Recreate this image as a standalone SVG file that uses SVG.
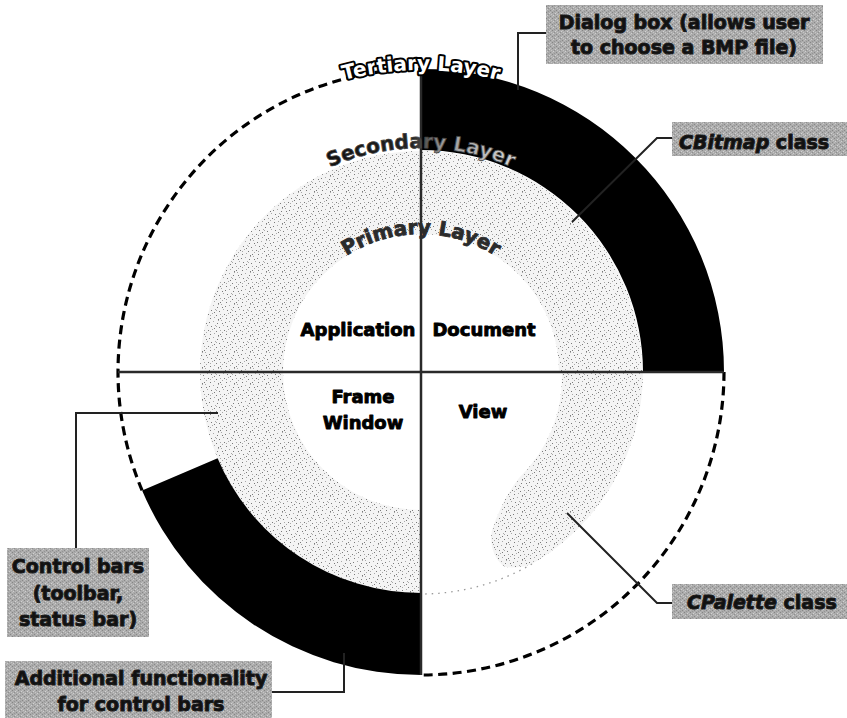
<svg xmlns="http://www.w3.org/2000/svg" width="847" height="718" viewBox="0 0 847 718">
  <defs>
    <!-- light grain for the secondary layer -->
    <pattern id="stipple" x="0" y="0" width="16" height="16" patternUnits="userSpaceOnUse">
      <rect width="16" height="16" fill="#f4f4f4"/>
      <g fill="#7a7a7a">
        <rect x="1" y="2" width="1" height="1"/><rect x="9" y="3" width="1" height="1"/>
        <rect x="3" y="6" width="1" height="1"/><rect x="11" y="7" width="1" height="1"/>
        <rect x="0" y="10" width="1" height="1"/><rect x="8" y="11" width="1" height="1"/>
        <rect x="2" y="14" width="1" height="1"/><rect x="10" y="15" width="1" height="1"/>
        <rect x="6" y="8" width="1" height="1"/><rect x="14" y="3" width="1" height="1"/>
        <rect x="12" y="14" width="1" height="1"/>
      </g>
      <g fill="#a8a8a8">
        <rect x="5" y="1" width="1" height="1"/><rect x="13" y="0" width="1" height="1"/>
        <rect x="7" y="5" width="1" height="1"/><rect x="15" y="5" width="1" height="1"/>
        <rect x="4" y="9" width="1" height="1"/><rect x="12" y="10" width="1" height="1"/>
        <rect x="6" y="13" width="1" height="1"/><rect x="14" y="12" width="1" height="1"/>
        <rect x="10" y="0" width="1" height="1"/><rect x="2" y="11" width="1" height="1"/>
        <rect x="8" y="6" width="1" height="1"/>
      </g>
    </pattern>
    <!-- mottled grey for the callout boxes -->
    <pattern id="boxgrain" x="0" y="0" width="6" height="6" patternUnits="userSpaceOnUse">
      <rect width="6" height="6" fill="#ababab"/>
      <rect x="0" y="0" width="1" height="1" fill="#858585"/>
      <rect x="3" y="1" width="1" height="1" fill="#d2d2d2"/>
      <rect x="1" y="3" width="1" height="1" fill="#cfcfcf"/>
      <rect x="4" y="4" width="1" height="1" fill="#878787"/>
      <rect x="2" y="5" width="1" height="1" fill="#959595"/>
      <rect x="5" y="2" width="1" height="1" fill="#c6c6c6"/>
      <rect x="0" y="4" width="1" height="1" fill="#bdbdbd"/>
      <rect x="4" y="0" width="1" height="1" fill="#c0c0c0"/>
      <rect x="2" y="2" width="1" height="1" fill="#8f8f8f"/>
    </pattern>
    <linearGradient id="secFade" gradientUnits="userSpaceOnUse" x1="330" y1="0" x2="512" y2="0">
      <stop offset="0" stop-color="#111"/>
      <stop offset="0.45" stop-color="#222"/>
      <stop offset="0.62" stop-color="#9a9a9a"/>
      <stop offset="1" stop-color="#d0d0d0"/>
    </linearGradient>
    <!-- baselines for the curved layer names (centre 421,372) -->
    <path id="arcTertiary" d="M119,372 A302,302 0 0 1 723,372"/>
    <path id="arcSecondary" d="M197,372 A224,224 0 0 1 645,372"/>
    <path id="arcPrimary" d="M283,372 A138,138 0 0 1 559,372"/>
    <style>
      .band { fill: #000; }
      .grain { fill: url(#stipple); }
      .dashed { fill: none; stroke: #000; stroke-width: 3.2; stroke-dasharray: 9 5.5; }
      .axis { stroke: #2a2a2a; stroke-width: 2.5; fill: none; }
      .lead { fill: none; stroke: #222; stroke-width: 2; }
      .box { fill: url(#boxgrain); }
      .lbl { font-family: "DejaVu Sans", "Liberation Sans", sans-serif; font-weight: bold; font-size: 19px; fill: #111; stroke: #1a1a1a; stroke-width: 1; stroke-linejoin: round; }
      .quad { font-family: "DejaVu Sans", "Liberation Sans", sans-serif; font-weight: bold; font-size: 18px; fill: #000; stroke: #000; stroke-width: 0.9; stroke-linejoin: round; text-anchor: middle; }
      .layer { font-family: "DejaVu Sans", "Liberation Sans", sans-serif; font-weight: bold; font-size: 20px; stroke-linejoin: round; }
    </style>
  </defs>

  <rect width="847" height="718" fill="#fff"/>

  <!-- secondary layer ring -->
  <g id="secondary-layer">
    <path class="grain" d="M642,372 A221,221 0 1 0 421,593 L421,510 A138,138 0 1 1 559,372 Z"/>
    <path class="grain" d="M643,372 A222,222 0 0 1 532,564 Q515,570 503,566 Q488,552 492,530 Q502,500 519,478 A141,141 0 0 0 562,372 Z"/>
    <path d="M532,564 A222,222 0 0 1 425,594" fill="none" stroke="#9a9a9a" stroke-width="1.3" stroke-dasharray="1.5 5"/>
  </g>

  <!-- tertiary layer: outer dashed boundary and filled sectors -->
  <g id="tertiary-layer">
    <path class="band" d="M421,69 A303,303 0 0 1 724,372 L643,372 A222,222 0 0 0 421,150 Z"/>
    <path class="band" d="M421,675 A303,303 0 0 1 142.1,490.4 L217.6,458.3 A221,221 0 0 0 421,593 Z"/>
    <path class="dashed" d="M724,372 A303,303 0 0 1 421,675"/>
    <path class="dashed" d="M142.1,490.4 A303,303 0 0 1 421,69"/>
  </g>

  <!-- quadrant dividers -->
  <g id="axes">
    <line class="axis" x1="118" y1="372" x2="724" y2="372"/>
    <line class="axis" x1="421" y1="69" x2="421" y2="675"/>
  </g>

  <!-- layer names -->
  <g id="layer-names">
    <text class="layer" fill="#fff" stroke="#000" stroke-width="4" paint-order="stroke"><textPath href="#arcTertiary" startOffset="50%" text-anchor="middle">Tertiary Layer</textPath></text>
    <text class="layer" fill="url(#secFade)" stroke="#444" stroke-width="0.8"><textPath href="#arcSecondary" startOffset="50%" text-anchor="middle">Secondary Layer</textPath></text>
    <text class="layer" fill="#2b2b2b" stroke="#2b2b2b" stroke-width="0.8"><textPath href="#arcPrimary" startOffset="50%" text-anchor="middle">Primary Layer</textPath></text>
  </g>

  <!-- primary layer quadrants -->
  <g id="application"><text class="quad" x="358" y="336">Application</text></g>
  <g id="document"><text class="quad" x="484" y="336">Document</text></g>
  <g id="frame-window"><text class="quad" x="363" y="403">Frame</text><text class="quad" x="363" y="429">Window</text></g>
  <g id="view"><text class="quad" x="483" y="418">View</text></g>

  <!-- leader lines from callouts -->
  <g id="connectors">
    <polyline class="lead" points="546,33 518,33 518,90"/>
    <polyline class="lead" points="672,138 657,138 572,222"/>
    <polyline class="lead" points="672,603 657,603 567,513"/>
    <polyline class="lead" points="76,548 76,413 218,413"/>
    <polyline class="lead" points="272,692 344,692 344,653"/>
  </g>

  <!-- callouts -->
  <g id="dialog-box">
    <rect class="box" x="546" y="5" width="277" height="59"/>
    <text class="lbl" x="684" y="29" text-anchor="middle">Dialog box (allows user</text>
    <text class="lbl" x="684" y="54" text-anchor="middle">to choose a BMP file)</text>
  </g>
  <g id="cbitmap">
    <rect class="box" x="672" y="122" width="175" height="34"/>
    <text class="lbl" x="679" y="149"><tspan font-style="italic">CBitmap</tspan> class</text>
  </g>
  <g id="cpalette">
    <rect class="box" x="672" y="584" width="175" height="35"/>
    <text class="lbl" x="687" y="609"><tspan font-style="italic">CPalette</tspan> class</text>
  </g>
  <g id="control-bars">
    <rect class="box" x="7" y="548" width="142" height="89"/>
    <text class="lbl" x="78" y="573" text-anchor="middle">Control bars</text>
    <text class="lbl" x="78" y="600" text-anchor="middle">(toolbar,</text>
    <text class="lbl" x="78" y="626" text-anchor="middle">status bar)</text>
  </g>
  <g id="additional-functionality">
    <rect class="box" x="5" y="661" width="267" height="57"/>
    <text class="lbl" x="141" y="685" text-anchor="middle">Additional functionality</text>
    <text class="lbl" x="141" y="711" text-anchor="middle">for control bars</text>
  </g>
</svg>
